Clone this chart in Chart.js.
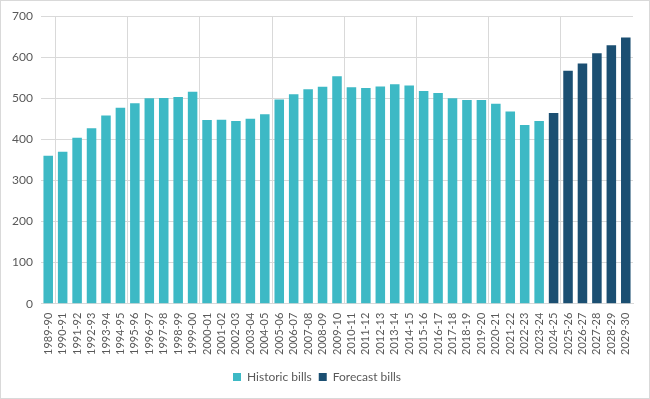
<!DOCTYPE html>
<html>
<head>
<meta charset="utf-8">
<script src="https://cdn.jsdelivr.net/npm/chart.js@4.4.3/dist/chart.umd.min.js"></script>
<style>
  html, body { margin: 0; padding: 0; background: #fff; }
  #wrap { width: 650px; height: 399px; box-sizing: border-box; border: 1px solid #d9d9d9; }
  canvas { display: block; }
</style>
</head>
<body>
<div id="wrap"><canvas id="c" width="648" height="397"></canvas></div>
<script>
// years on the x axis
const years = [
  '1989-90','1990-91','1991-92','1992-93','1993-94','1994-95','1995-96','1996-97','1997-98','1998-99',
  '1999-00','2000-01','2001-02','2002-03','2003-04','2004-05','2005-06','2006-07','2007-08','2008-09',
  '2009-10','2010-11','2011-12','2012-13','2013-14','2014-15','2015-16','2016-17','2017-18','2018-19',
  '2019-20','2020-21','2021-22','2022-23','2023-24','2024-25','2025-26','2026-27','2027-28','2028-29',
  '2029-30'
];

// historic bills (to 2023-24)
const historic = [
  360, 370, 404, 427, 458, 477, 488, 500, 501, 503,
  516, 447, 448, 445, 450, 461, 497, 510, 522, 528,
  554, 527, 525, 529, 534, 531, 518, 513, 500, 496,
  496, 487, 468, 435, 445
];

// forecast bills (2024-25 onward)
const forecast = [464, 567, 585, 610, 629, 648];

const yTicks = [0, 100, 200, 300, 400, 500, 600, 700];

const histData = years.map((_, i) => i < historic.length ? historic[i] : null);
const foreData = years.map((_, i) => i >= historic.length ? forecast[i - historic.length] : null);

const grey = '#595959';
const gridGrey = '#d9d9d9';
const font = 'Lato, "Open Sans", sans-serif';

new Chart(document.getElementById('c').getContext('2d'), {
  type: 'bar',
  data: {
    labels: years,
    datasets: [
      { label: 'Historic bills', data: histData, backgroundColor: '#3DB9C5' },
      { label: 'Forecast bills', data: foreData, backgroundColor: '#1B4F72' }
    ]
  },
  options: {
    responsive: false,
    animation: false,
    layout: { padding: { top: 10, right: 16, bottom: 5, left: 0 } },
    datasets: { bar: { grouped: false, barPercentage: 0.66, categoryPercentage: 1 } },
    plugins: {
      tooltip: { enabled: false },
      legend: {
        position: 'bottom',
        labels: {
          boxWidth: 8, boxHeight: 8, padding: 7,
          color: grey, font: { family: font, size: 12 }
        }
      }
    },
    scales: {
      x: {
        grid: {
          offset: true,
          drawTicks: false,
          color: ctx => (ctx.index % 5 === 1 ? gridGrey : 'rgba(0,0,0,0)')
        },
        border: { color: gridGrey },
        ticks: {
          autoSkip: false, minRotation: 90, maxRotation: 90, padding: 9,
          color: grey, font: { family: font, size: 11 }
        }
      },
      y: {
        min: 0, max: 700,
        afterFit: s => { s.width = 40; },
        afterBuildTicks: s => { s.ticks = yTicks.map(v => ({ value: v })); },
        grid: { drawTicks: false, color: gridGrey },
        border: { display: false },
        ticks: { padding: 8, color: grey, font: { family: font, size: 12 } }
      }
    }
  }
});
</script>
</body>
</html>
